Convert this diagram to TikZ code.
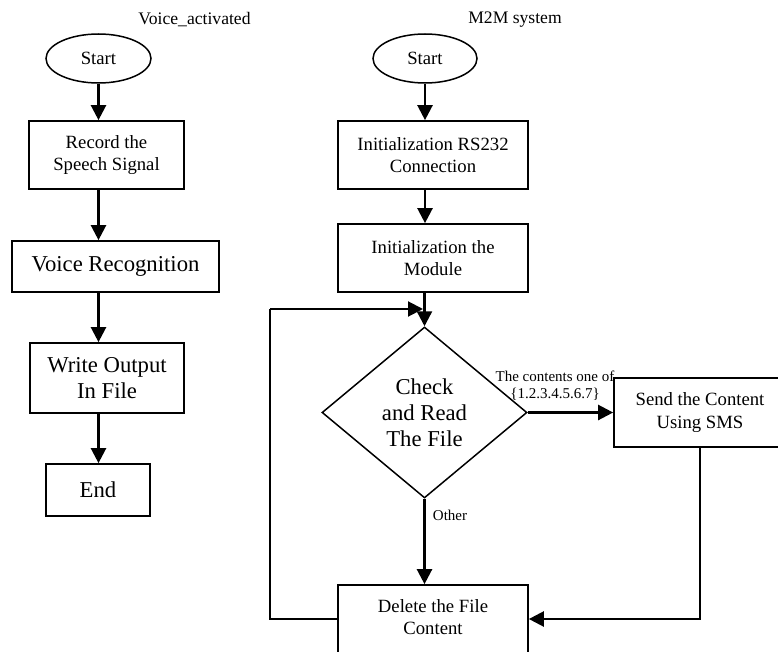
\documentclass[tikz,border=0pt]{standalone}
\usepackage{fontspec}
\setmainfont{Liberation Serif}
\usetikzlibrary{shapes.geometric,arrows.meta}
\begin{document}
\begin{tikzpicture}[x=1pt,y=-1pt,
  smallf/.style={font=\fontsize{18.7}{22.5}\selectfont},
  bigf/.style={font=\fontsize{22.7}{25.5}\selectfont},
  box/.style={draw,line width=1.7pt,align=center,inner sep=0pt},
  oval/.style={draw,ellipse,line width=1.5pt,inner sep=0pt,smallf},
  arr/.style={line width=2.4pt,-{Triangle[length=15pt,width=15pt]}},
  thinline/.style={line width=1.5pt},
  lbl/.style={font=\fontsize{15}{17}\selectfont,inner sep=0pt,align=center}]
\useasboundingbox (0,0) rectangle (778,652);
% titles
\node[font=\fontsize{17.6}{20}\selectfont] (t1) at (194.5,20) {Voice\_activated};
\node[font=\fontsize{17.6}{20}\selectfont] (t2) at (515,20) {M2M system};
% left column
\node[oval,minimum width=105pt,minimum height=49pt] (s1) at (98.5,58.5) {Start};
\node[box,smallf,minimum width=155pt,minimum height=68pt] (r1) at (106.5,155) {Record the\\Speech Signal};
\node[box,bigf,minimum width=207pt,minimum height=51pt] (v1) at (115.5,266.5) {Voice Recognition};
\node[box,bigf,minimum width=154pt,minimum height=70pt] (w1) at (107,378) {Write Output\\In File};
\node[box,bigf,minimum width=104pt,minimum height=52pt] (e1) at (98,490) {End};
\draw[arr] (s1.south) -- (s1.south |- r1.north);
\draw[arr] (r1.south -| s1) -- (v1.north -| s1);
\draw[arr] (v1.south -| s1) -- (w1.north -| s1);
\draw[arr] (w1.south -| s1) -- (e1.north -| s1);
% right column
\node[oval,minimum width=104pt,minimum height=49pt] (s2) at (425,58.5) {Start};
\node[box,smallf,minimum width=190pt,minimum height=68pt] (i1) at (433,155) {Initialization RS232\\Connection};
\node[box,smallf,minimum width=190pt,minimum height=68pt] (i2) at (433,258) {Initialization the\\Module};
\node[draw,diamond,line width=1.5pt,inner sep=0pt,minimum width=205pt,minimum height=171pt,align=center,font=\fontsize{22.7}{26}\selectfont] (d) at (424.5,412.5) {Check\\and Read\\The File};
\node[box,smallf,minimum width=172pt,minimum height=69pt] (sms) at (700,412.5) {Send the Content\\Using SMS};
\node[box,smallf,minimum width=190pt,minimum height=68pt] (del) at (433,619) {\raisebox{4pt}{\begin{tabular}{@{}c@{}}Delete the File\\Content\end{tabular}}};
\draw[arr] (s2.south) -- (s2.south |- i1.north);
\draw[arr] (i1.south -| s2) -- (i2.north -| s2);
\draw[arr] (i2.south -| d.north) -- (d.north);
\draw[arr] (d.east) -- (sms.west);
\draw[arr] (d.south) -- (del.north -| d.south);
\draw[arr] (sms.south) |- (del.east);
\coordinate (lp) at (270,309);
\draw[thinline] (del.west) -| (lp);
\draw[line width=2pt,-{Triangle[length=15pt,width=15pt]}] (lp) -- ([xshift=-1.5pt]lp -| d.north);
% labels
\node[lbl] (l1) at (555,386) {The contents one of\\\{1.2.3.4.5.6.7\}};
\node[lbl] (l2) at (450,515) {Other};
\end{tikzpicture}
\end{document}
